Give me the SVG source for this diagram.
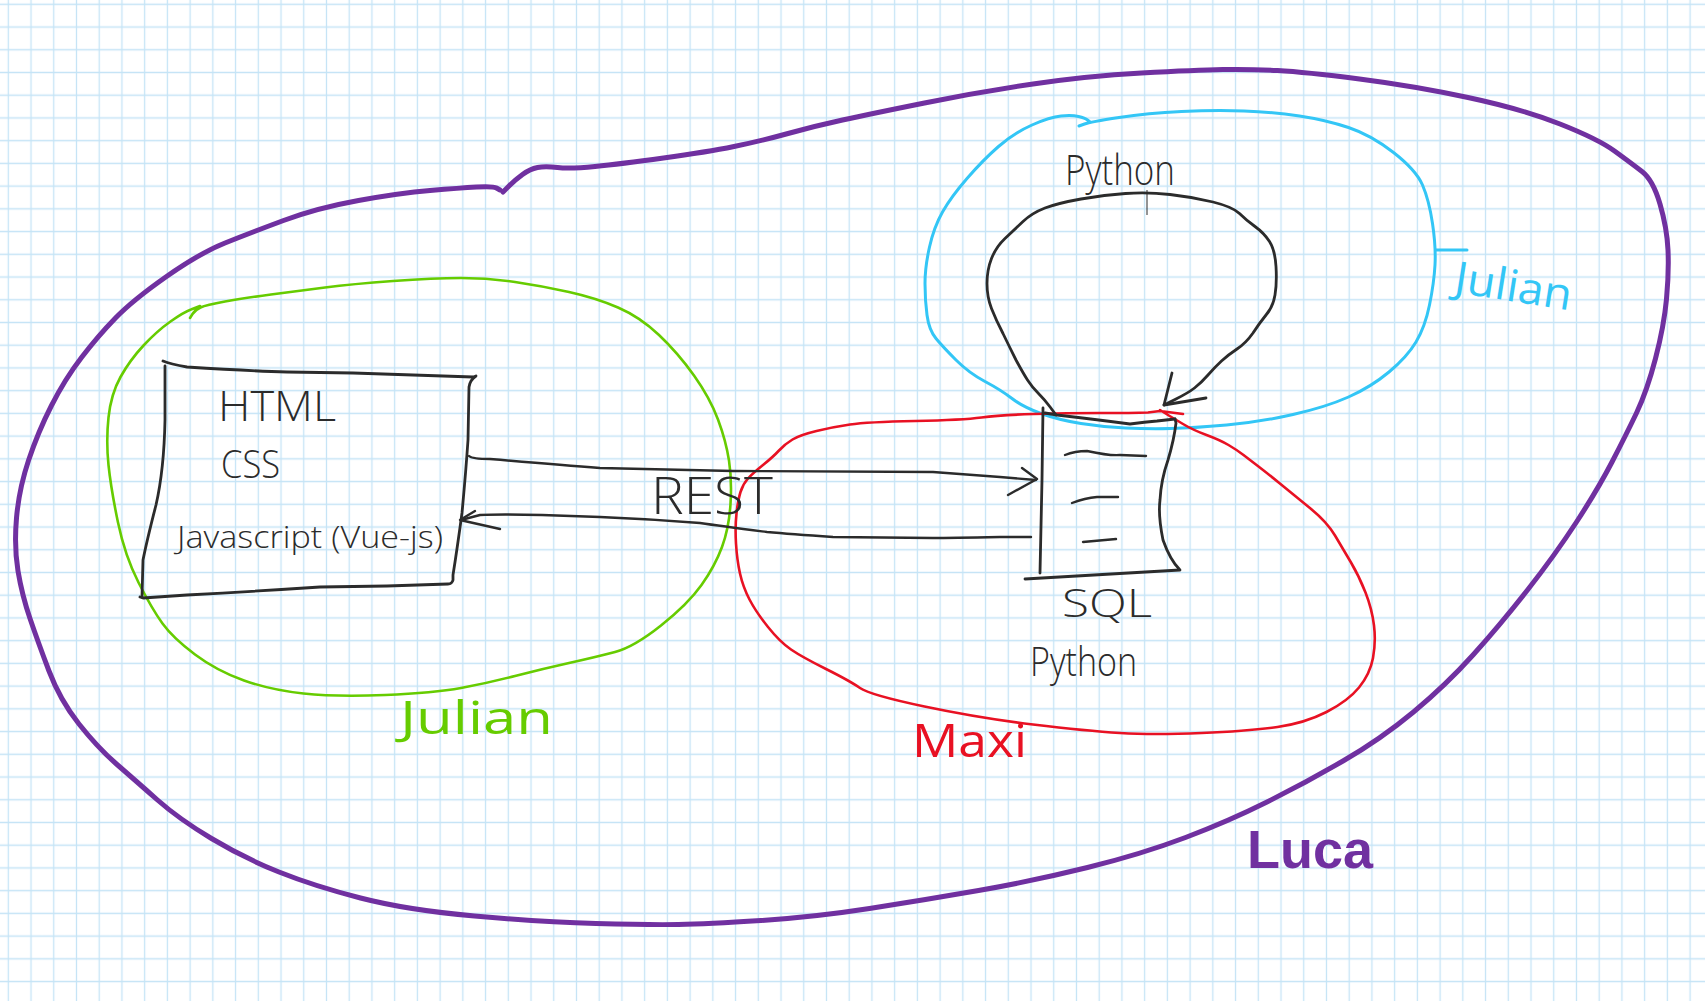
<svg xmlns="http://www.w3.org/2000/svg" width="1705" height="1001" viewBox="0 0 1705 1001">
<style>
.ink{fill:none;stroke:#2b2b2b;stroke-width:2.8;stroke-linecap:round;stroke-linejoin:round}
.thin{fill:none;stroke:#2b2b2b;stroke-width:2.4;stroke-linecap:round;stroke-linejoin:round}
.lbl{font-family:"Open Sans","Liberation Sans",Arial,sans-serif;font-weight:300;fill:#2b2b2b}
.purple{fill:none;stroke:#7030a0;stroke-width:5;stroke-linecap:round;stroke-linejoin:round}
.green{fill:none;stroke:#66cc00;stroke-width:2.6;stroke-linecap:round;stroke-linejoin:round}
.blue{fill:none;stroke:#33c6f6;stroke-width:3;stroke-linecap:round;stroke-linejoin:round}
.red{fill:none;stroke:#e81123;stroke-width:2.6;stroke-linecap:round;stroke-linejoin:round}
</style>
<defs>
<pattern id="grid" patternUnits="userSpaceOnUse" x="-3.06" y="-7.06" width="22.727" height="22.727">
<path d="M11.36 0V22.727M0 11.36H22.727" stroke="#c5e4f6" stroke-width="1.3" fill="none"/>
</pattern>
</defs>
<rect width="1705" height="1001" fill="#ffffff"/>
<rect width="1705" height="1001" fill="url(#grid)"/>

<g id="region-luca">
<path class="purple" d="M503 192 L509 186 Q515 180 522.5 174.5 Q530 169 537.5 167.5 Q545 166 557.5 167.5 Q570 169 595 166.5 Q620 164 663.5 158 Q707 152 734 146.5 Q761 141 788 133.5 Q815 126 842.5 120 Q870 114 924.5 103 Q979 92 1033 84 Q1087 76 1141.5 73 Q1196 70 1223 69.5 Q1250 69 1277.5 70.5 Q1305 72 1359.5 79 Q1414 86 1468 97.5 Q1522 109 1560 124 Q1598 139 1614.5 151 Q1631 163 1642 171.5 Q1653 180 1660 204 Q1667 228 1668 250 Q1669 272 1666.5 299 Q1664 326 1655.5 358.5 Q1647 391 1636.5 413 Q1626 435 1612 462 Q1598 489 1576.5 522 Q1555 555 1527.5 590 Q1500 625 1473 655 Q1446 685 1413.5 712 Q1381 739 1343 761 Q1305 783 1267 802 Q1229 821 1185.5 837.5 Q1142 854 1087.5 867.5 Q1033 881 978.5 890.5 Q924 900 869.5 908.5 Q815 917 761 920.5 Q707 924 678.5 924.5 Q650 925 596 923.5 Q542 922 474.5 916 Q407 910 360.5 898 Q314 886 279 872 Q244 858 211.5 838.5 Q179 819 157.5 800 Q136 781 117 764.5 Q98 748 79 724 Q60 700 49 671 Q38 642 30 618.5 Q22 595 18 571 Q14 547 16.5 518 Q19 489 28.5 460.5 Q38 432 51.5 405.5 Q65 379 81.5 357.5 Q98 336 115.5 318 Q133 300 166.5 276.5 Q200 253 225 243 Q250 233 283.5 220.5 Q317 208 358.5 200.5 Q400 193 430 190.5 Q460 188 476.5 187 Q493 186 496.5 188 L500 190"/>
<text x="1247" y="868" font-family="Liberation Sans, Arial, sans-serif" font-size="53" font-weight="bold" fill="#7030a0" textLength="126" lengthAdjust="spacingAndGlyphs">Luca</text>
</g>

<g id="region-julian-frontend">
<path class="green" d="M190 318 L192.5 314 Q195 310 200.5 307.5 Q206 305 225 301.5 Q244 298 271 294.5 Q298 291 325 287.5 Q352 284 393 281 Q434 278 461 278 Q488 278 515 282 Q542 286 569 292 Q596 298 618 307.5 Q640 317 659 335 Q678 353 694 375.5 Q710 398 718 419.5 Q726 441 729 460.5 Q732 480 730.5 504 Q729 528 722 547 Q715 566 701.5 585 Q688 604 661 625.5 Q634 647 615 652 Q596 657 569 663 Q542 669 515 676 Q488 683 461 688 Q434 693 385 695 Q336 697 303.5 693.5 Q271 690 244 680.5 Q217 671 195 654.5 Q173 638 162.5 623.5 Q152 609 138.5 582.5 Q125 556 118 522.5 Q111 489 108.5 465 Q106 441 108.5 417.5 Q111 394 120.5 377 Q130 360 143.5 345.5 Q157 331 170.5 321.5 Q184 312 191 309.5 L200 306"/>
<text class="lbl" x="400" y="734" font-size="45" style="fill:#66cc00;font-weight:400" textLength="153" lengthAdjust="spacingAndGlyphs">Julian</text>
</g>

<g id="region-julian-backend">
<path class="blue" d="M1079 126 L1084.5 124 Q1090 122 1119 117.5 Q1148 113 1181.5 111.5 Q1215 110 1244 111 Q1273 112 1299.5 116 Q1326 120 1348.5 127.5 Q1371 135 1393.5 152.5 Q1416 170 1422.5 185 Q1429 200 1432.5 223.5 Q1436 247 1435 265 Q1434 283 1429.5 305 Q1425 327 1416 342 Q1407 357 1389 372 Q1371 387 1348.5 397 Q1326 407 1293 414.5 Q1260 422 1226.5 425 Q1193 428 1170.5 428.5 Q1148 429 1125.5 428 Q1103 427 1081 423.5 Q1059 420 1041 413.5 Q1023 407 1012 398.5 Q1001 390 985 381.5 Q969 373 956 360 Q943 347 936 338.5 Q929 330 927 315 Q925 300 925 283.5 Q925 267 929.5 247 Q934 227 942.5 212 Q951 197 967 178.5 Q983 160 998.5 146.5 Q1014 133 1032 125 Q1050 117 1061 116 Q1072 115 1078.5 116.5 Q1085 118 1087.5 120 L1090 122"/>
<path class="blue" d="M1436 250 L1467 250"/>
<text class="lbl" x="1453" y="292" font-size="44" style="fill:#33c6f6;font-weight:400" textLength="118" lengthAdjust="spacingAndGlyphs" transform="rotate(9 1453 292)">Julian</text>
</g>

<g id="region-maxi">
<path class="red" d="M1183 414 L1160 411 L1148 412.5 Q1133 413 1100 413 Q1067 413 1033.5 414 Q1000 415 981.5 417.5 Q963 420 915 421 Q867 422 850 424.5 Q833 427 816.5 431 Q800 435 792.5 439.5 Q785 444 779 450.5 Q773 457 763 465 Q753 473 748 478.5 Q743 484 740.5 492 Q738 500 736.5 513.5 Q735 527 736 543.5 Q737 560 740 573.5 Q743 587 749.5 599.5 Q756 612 768 627 Q780 642 791 649.5 Q802 657 826 669 Q850 681 860 688 Q870 695 924.5 706.5 Q979 718 1033 724.5 Q1087 731 1120 733 Q1153 735 1201.5 733 Q1250 731 1277.5 727 Q1305 723 1326.5 712 Q1348 701 1359 687.5 Q1370 674 1373 658 Q1376 642 1374 625.5 Q1372 609 1365.5 592.5 Q1359 576 1351 562.5 Q1343 549 1335 535.5 Q1327 522 1310.5 508.5 Q1294 495 1280.5 484 Q1267 473 1258.5 466.5 Q1250 460 1243.5 455 Q1237 450 1228.5 445 Q1220 440 1206.5 435 Q1193 430 1183 424 Q1173 418 1168 415 L1160 410"/>
<text class="lbl" x="912" y="757" font-size="46" style="fill:#e81123;font-weight:400" textLength="115" lengthAdjust="spacingAndGlyphs">Maxi</text>
</g>

<g id="node-frontend">
<path class="ink" d="M163 361 Q170 364 187 367 Q250 371 287 372 L353 373 Q420 375 473 377 L476 376 Q470 380 469 387 L468 440 Q466 470 462 513 Q457 550 453 575 L453 580 Q452 584 448 584 L387 586 L320 587 Q260 591 187 595 L143 598 L140 597"/>
<path class="ink" d="M165 366 L165 420 Q164 470 156 505 Q147 540 143 560 L142 597"/>
<text class="lbl" x="218" y="421" font-size="43" textLength="118" lengthAdjust="spacingAndGlyphs">HTML</text>
<text class="lbl" x="221" y="478" font-size="39" textLength="59" lengthAdjust="spacingAndGlyphs">CSS</text>
<text class="lbl" x="177" y="548" font-size="32" textLength="266" lengthAdjust="spacingAndGlyphs">Javascript (Vue-js)</text>
</g>

<g id="node-backend">
<path class="ink" d="M1043 408 L1042 480 L1040 573"/>
<path class="ink" d="M1025 579 L1180 570 Q1170 560 1163 540 Q1158 515 1160 500 Q1161 480 1168 460 Q1174 440 1176 423 L1175 419"/>
<path class="ink" d="M1045 413 L1057 415 Q1100 420 1130 424 Q1145 422 1157 421 L1175 419"/>
<path class="thin" d="M1065 455 Q1075 451 1087 451 Q1110 456 1120 455 L1146 456"/>
<path class="thin" d="M1072 503 Q1085 498 1097 497 L1118 497"/>
<path class="thin" d="M1083 542 L1116 539"/>
<text class="lbl" x="1062" y="617" font-size="38" textLength="90" lengthAdjust="spacingAndGlyphs">SQL</text>
<text class="lbl" x="1030" y="676" font-size="40" textLength="107" lengthAdjust="spacingAndGlyphs">Python</text>
</g>

<g id="connectors">
<path class="thin" d="M469 456 Q472 459 490 459 Q560 465 600 468 L733 471 L933 472 Q960 474 1000 477 L1036 480"/>
<path class="thin" d="M1022 468 L1037 479 L1008 495"/>
<path class="thin" d="M1031 537 L1000 537 Q950 538 933 538 L833 537 Q790 534 767 532 Q720 526 700 523 Q650 519 600 517 L542 515 Q500 514 480 515 L461 520"/>
<path class="thin" d="M475 511 L460 520 L500 529"/>
<text class="lbl" x="651" y="514" font-size="51" textLength="122" lengthAdjust="spacingAndGlyphs">REST</text>
<path class="ink" d="M1056 415 L1050.5 407.5 Q1045 400 1038.5 393.5 Q1032 387 1027.5 380 Q1023 373 1016 360 Q1009.5 347 1003 333.5 Q996 320 991.5 308.5 Q987 297 987 283.5 Q987 270 991.5 258.5 Q996 247 1005 238.5 Q1014 230 1023 221.5 Q1032 213 1045 208 Q1058.6 203 1081 199 Q1103 195 1125.5 193.5 Q1148 192 1170 194.5 Q1192.5 197 1213 202 Q1233 207 1239.5 213.5 Q1246 220 1255 226.5 Q1264 233 1269.5 241.5 Q1275 250 1276 266.5 Q1277 283 1275 295 Q1273 307 1266 315 Q1259.5 323 1253 333 Q1246 343 1237 349 Q1228 355 1221.5 361 Q1215 367 1208 375 Q1201 383 1194.5 388 Q1188 393 1176 399 L1164 405"/>
<path class="ink" d="M1172 373 L1164 405 L1206 398"/>
<path d="M1147 190 L1147 215" stroke="#2b2b2b" stroke-width="1" fill="none"/>
<text class="lbl" x="1065" y="185" font-size="42" textLength="110" lengthAdjust="spacingAndGlyphs">Python</text>
</g>
</svg>
